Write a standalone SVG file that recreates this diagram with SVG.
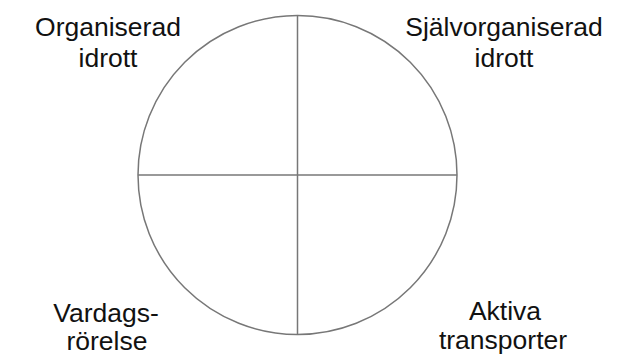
<svg xmlns="http://www.w3.org/2000/svg" width="630" height="358" viewBox="0 0 630 358">
<style>
.t{font-family:"Liberation Sans",Arial,sans-serif;font-size:26.5px;fill:#111;text-anchor:middle}
.s{stroke:#777;stroke-width:1.5;fill:none}
</style>
<rect width="630" height="358" fill="#fff"/>
<g id="circle"><circle class="s" cx="297.5" cy="175" r="159.5"/></g>
<g id="connectors">
<line class="s" x1="297.5" y1="15.5" x2="297.5" y2="334.5"/>
<line class="s" x1="138" y1="175" x2="457" y2="175"/>
</g>
<g id="organiserad"><text class="t" x="108" y="36">Organiserad</text><text class="t" x="108" y="66.5">idrott</text></g>
<g id="sjalvorganiserad"><text class="t" x="504" y="36">Självorganiserad</text><text class="t" x="504" y="66.5">idrott</text></g>
<g id="vardags"><text class="t" x="106" y="321.5">Vardags-</text><text class="t" x="107" y="350">rörelse</text></g>
<g id="aktiva"><text class="t" x="505" y="320">Aktiva</text><text class="t" x="503" y="349">transporter</text></g>
</svg>
